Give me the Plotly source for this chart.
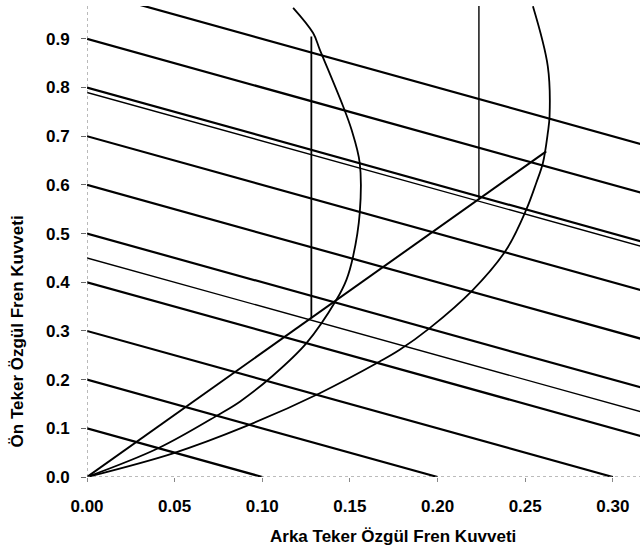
import plotly.graph_objects as go

# Constant deceleration lines (x + y = z)
z_main = [0.1, 0.2, 0.3, 0.4, 0.5, 0.6, 0.7, 0.8, 0.9, 1.0]
z_thin = [0.45, 0.79]

# Ideal distribution curve 1
c1_x = [0.0, 0.0406, 0.0748, 0.0872, 0.106, 0.1252, 0.1423, 0.148, 0.1518, 0.1556, 0.1556, 0.1509, 0.1461, 0.1328, 0.129, 0.1176]
c1_y = [0.0, 0.059, 0.1275, 0.1548, 0.208, 0.2749, 0.364, 0.405, 0.453, 0.542, 0.645, 0.7136, 0.7615, 0.878, 0.912, 0.9638]

# Ideal distribution curve 2
c2_x = [0.0, 0.0491, 0.09, 0.1328, 0.167, 0.1784, 0.1955, 0.2202, 0.2392, 0.2506, 0.2563, 0.2601, 0.2629, 0.2639, 0.2629, 0.2544]
c2_y = [0.0, 0.0487, 0.1034, 0.1721, 0.2371, 0.2612, 0.3058, 0.3845, 0.4668, 0.549, 0.604, 0.645, 0.7068, 0.7409, 0.8437, 0.967]

# Installed distribution line
inst_x = [0.0, 0.262]
inst_y = [0.0, 0.669]

# Limiting (vertical) lines
v1_x = [0.128, 0.128]
v1_y = [0.326, 0.905]
v2_x = [0.2236, 0.2236]
v2_y = [0.573, 1.0]

x_ticks = [0.0, 0.05, 0.10, 0.15, 0.20, 0.25, 0.30]
x_labels = ["0.00", "0.05", "0.10", "0.15", "0.20", "0.25", "0.30"]
y_ticks = [0.0, 0.1, 0.2, 0.3, 0.4, 0.5, 0.6, 0.7, 0.8, 0.9]
y_labels = ["0.0", "0.1", "0.2", "0.3", "0.4", "0.5", "0.6", "0.7", "0.8", "0.9"]

FONT = "Liberation Sans, Arial, sans-serif"

fig = go.Figure()

for z in z_main:
    fig.add_trace(go.Scatter(x=[0, z], y=[z, 0], mode="lines",
                             line=dict(color="black", width=2.2), hoverinfo="skip"))
for z in z_thin:
    fig.add_trace(go.Scatter(x=[0, z], y=[z, 0], mode="lines",
                             line=dict(color="black", width=1.4), hoverinfo="skip"))

fig.add_trace(go.Scatter(x=c1_x, y=c1_y, mode="lines",
                         line=dict(color="black", width=1.8, shape="spline", smoothing=1.0)))
fig.add_trace(go.Scatter(x=c2_x, y=c2_y, mode="lines",
                         line=dict(color="black", width=1.8, shape="spline", smoothing=1.0)))
fig.add_trace(go.Scatter(x=inst_x, y=inst_y, mode="lines",
                         line=dict(color="black", width=2)))
fig.add_trace(go.Scatter(x=v1_x, y=v1_y, mode="lines",
                         line=dict(color="black", width=1.8)))
fig.add_trace(go.Scatter(x=v2_x, y=v2_y, mode="lines",
                         line=dict(color="black", width=1.4)))

tickfont = dict(family=FONT, size=17, color="black", weight="bold")

fig.update_layout(
    width=640, height=560,
    margin=dict(l=87, r=0, t=6, b=83, autoexpand=False),
    paper_bgcolor="white", plot_bgcolor="white",
    showlegend=False,
    xaxis=dict(range=[0, 0.3155], tickvals=x_ticks, ticktext=x_labels,
               showgrid=False, zeroline=False, showline=False, automargin=False,
               ticks="outside", ticklen=4, tickcolor="#888",
               ticklabelstandoff=10, tickfont=tickfont),
    yaxis=dict(range=[0, 0.9675], tickvals=y_ticks, ticktext=y_labels,
               showgrid=False, zeroline=False, showline=False, automargin=False,
               ticks="outside", ticklen=5, tickcolor="#666",
               ticklabelstandoff=8, tickfont=tickfont),
    shapes=[
        dict(type="line", xref="x", yref="paper", x0=0, x1=0, y0=0, y1=1,
             line=dict(color="#777", width=1, dash="dot")),
        dict(type="line", xref="paper", yref="y", x0=0, x1=1, y0=0, y1=0,
             line=dict(color="#777", width=1, dash="dot")),
    ],
    annotations=[
        dict(text="<b>Arka Teker Özgül Fren Kuvveti</b>", xref="paper", yref="paper",
             x=0.5533, y=-0.1253, xanchor="center", yanchor="middle", showarrow=False,
             font=dict(family=FONT, size=17, color="black")),
        dict(text="<b>Ön Teker Özgül Fren Kuvveti</b>", xref="paper", yref="paper",
             x=-0.124, y=0.31, xanchor="center", yanchor="middle", showarrow=False,
             textangle=-90,
             font=dict(family=FONT, size=17, color="black")),
    ],
)

fig.write_html("out.html",
               config={"displayModeBar": False},
               post_script="document.body.style.margin='0';document.body.style.overflow='hidden';")
